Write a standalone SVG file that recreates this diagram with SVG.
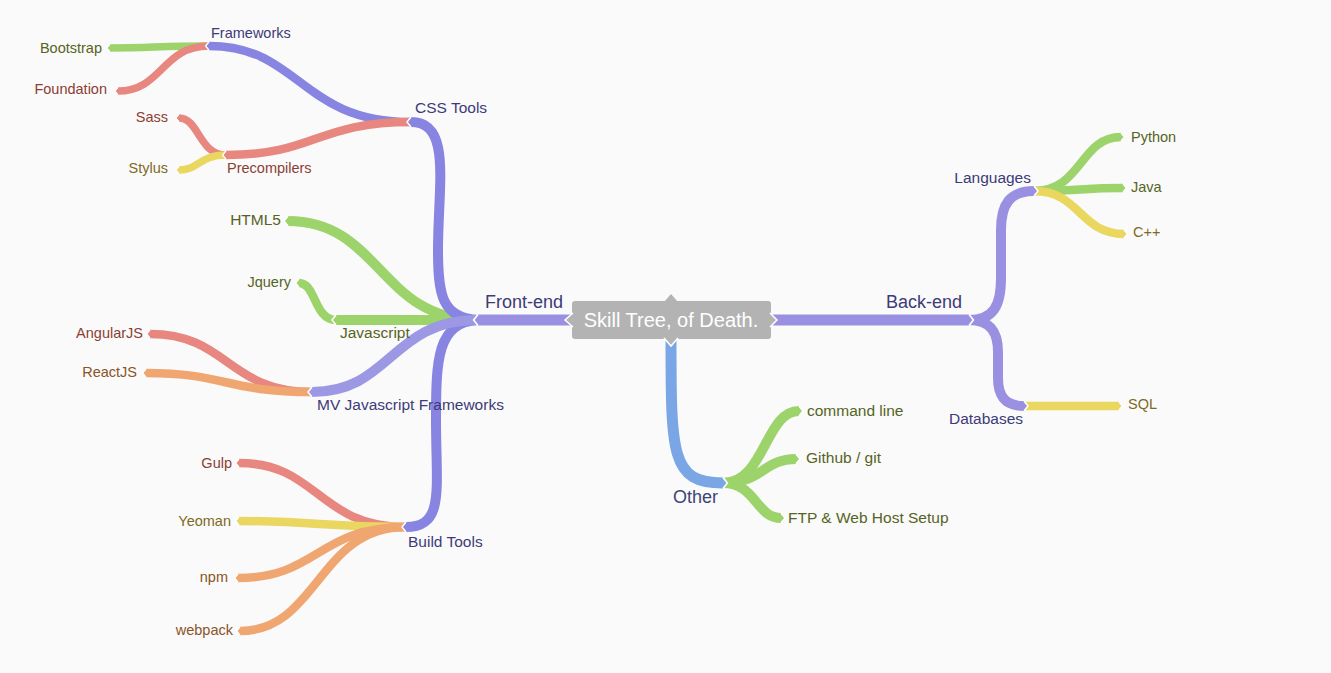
<svg xmlns="http://www.w3.org/2000/svg" width="1331" height="673" viewBox="0 0 1331 673">
<style>
text{font-family:"Liberation Sans",Arial,sans-serif}
.b{fill:none;stroke-linecap:butt;stroke-linejoin:round}
.w1{stroke-width:11}.w2{stroke-width:10}.w3{stroke-width:8.5}.w4{stroke-width:7.5}
.l1{font-size:18px}.l2{font-size:15.5px}.l3{font-size:14.5px}
.e{text-anchor:end}
.tn{fill:#3d3b78}.tg{fill:#56641f}.tr{fill:#8a3f33}.ty{fill:#7d6a1f}.to{fill:#8a5426}.tb{fill:#3b4477}
.tipo{fill:none;stroke:#fff;stroke-width:1.5}
</style>
<defs>
<marker id="mP1" viewBox="-1 -5 6 10" markerWidth="0.6" markerHeight="1" refX="0" refY="0" orient="auto" overflow="visible"><path d="M-1,-5 L4,0 L-1,5Z" fill="#9a90e1"/><path class="tipo" d="M0,-5 L4,0 L0,5"/></marker>
<marker id="mP2" viewBox="-1 -5 6 10" markerWidth="0.6" markerHeight="1" refX="0" refY="0" orient="auto" overflow="visible"><path d="M-1,-5 L4,0 L-1,5Z" fill="#8884e1"/><path class="tipo" d="M0,-5 L4,0 L0,5"/></marker>
<marker id="mP3" viewBox="-1 -5 6 10" markerWidth="0.6" markerHeight="1" refX="0" refY="0" orient="auto" overflow="visible"><path d="M-1,-5 L4,0 L-1,5Z" fill="#9c98e4"/><path class="tipo" d="M0,-5 L4,0 L0,5"/></marker>
<marker id="mG" viewBox="-1 -5 6 10" markerWidth="0.6" markerHeight="1" refX="0" refY="0" orient="auto" overflow="visible"><path d="M-1,-5 L4,0 L-1,5Z" fill="#9dd36b"/><path class="tipo" d="M0,-5 L4,0 L0,5"/></marker>
<marker id="mR" viewBox="-1 -5 6 10" markerWidth="0.6" markerHeight="1" refX="0" refY="0" orient="auto" overflow="visible"><path d="M-1,-5 L4,0 L-1,5Z" fill="#e8877f"/><path class="tipo" d="M0,-5 L4,0 L0,5"/></marker>
<marker id="mY" viewBox="-1 -5 6 10" markerWidth="0.6" markerHeight="1" refX="0" refY="0" orient="auto" overflow="visible"><path d="M-1,-5 L4,0 L-1,5Z" fill="#e9d760"/><path class="tipo" d="M0,-5 L4,0 L0,5"/></marker>
<marker id="mO" viewBox="-1 -5 6 10" markerWidth="0.6" markerHeight="1" refX="0" refY="0" orient="auto" overflow="visible"><path d="M-1,-5 L4,0 L-1,5Z" fill="#f0a670"/><path class="tipo" d="M0,-5 L4,0 L0,5"/></marker>
<marker id="mB" viewBox="-1 -5 6 10" markerWidth="0.6" markerHeight="1" refX="0" refY="0" orient="auto" overflow="visible"><path d="M-1,-5 L4,0 L-1,5Z" fill="#7ba6e6"/><path class="tipo" d="M0,-5 L4,0 L0,5"/></marker>
</defs>
<rect width="1331" height="673" fill="#fafafa"/>
<g id="connectors">
<!-- level 4 -->
<path class="b w4" stroke="#9dd36b" marker-end="url(#mG)" d="M209,46 C160,46 150,48 110,48"/>
<path class="b w4" stroke="#e8877f" marker-end="url(#mR)" d="M209,46 C162,46 162,91 118,91"/>
<path class="b w4" stroke="#e8877f" marker-end="url(#mR)" d="M226,155 C199,155 199,118 179,118"/>
<path class="b w4" stroke="#e9d760" marker-end="url(#mY)" d="M226,155 C199,155 199,170 179,170"/>
<!-- level 3 -->
<path class="b w3" stroke="#8884e1" marker-end="url(#mP2)" d="M411,122 C300,122 300,46 209,46"/>
<path class="b w3" stroke="#e8877f" marker-end="url(#mR)" d="M411,122 C316,122 316,155 226,155"/>
<path class="b w3" stroke="#9dd36b" marker-end="url(#mG)" d="M336,320 C314,320 316,283 299,283"/>
<path class="b w3" stroke="#e8877f" marker-end="url(#mR)" d="M312,392 C228,392 228,334 150,334"/>
<path class="b w3" stroke="#f0a670" marker-end="url(#mO)" d="M312,392 C226,392 226,373 146,373"/>
<path class="b w3" stroke="#e8877f" marker-end="url(#mR)" d="M406,527 C318,527 318,463 239,463"/>
<path class="b w3" stroke="#e9d760" marker-end="url(#mY)" d="M406,527 C320,527 320,521 239,521"/>
<path class="b w3" stroke="#f0a670" marker-end="url(#mO)" d="M406,527 C318,527 318,578 238,578"/>
<path class="b w3" stroke="#f0a670" marker-end="url(#mO)" d="M406,527 C318,527 318,631 240,631"/>
<path class="b w3" stroke="#9dd36b" marker-end="url(#mG)" d="M1034,191 C1082,191 1080,137 1121,137"/>
<path class="b w3" stroke="#9dd36b" marker-end="url(#mG)" d="M1034,191 C1080,191 1080,188 1123,188"/>
<path class="b w3" stroke="#e9d760" marker-end="url(#mY)" d="M1034,191 C1080,191 1080,234 1124,234"/>
<path class="b w3" stroke="#e9d760" marker-end="url(#mY)" d="M1024,406 L1119,406"/>
<!-- level 2 -->
<path class="b w2" stroke="#9dd36b" marker-end="url(#mG)" d="M478,320 C380,320 380,221 288,221"/>
<path class="b w2" stroke="#9dd36b" marker-end="url(#mG)" d="M478,320 L336,320"/>
<path class="b w2" stroke="#8884e1" marker-end="url(#mP2)" d="M478,320 C442,318 438,295 438,250 C438,185 452,122 411,122"/>
<path class="b w2" stroke="#8884e1" marker-end="url(#mP2)" d="M478,320 C437,322 436,360 436,420 C436,490 445,527 406,527"/>
<path class="b w2" stroke="#9c98e4" marker-end="url(#mP3)" d="M478,320 C391,320 391,392 312,392"/>
<path class="b w2" stroke="#9a90e1" marker-end="url(#mP1)" d="M969,320 C994,320 1001,305 1001,278 L1001,230 C1001,204 1010,191 1034,191"/>
<path class="b w2" stroke="#9a90e1" marker-end="url(#mP1)" d="M969,320 C991,320 998,333 998,352 L998,378 C998,397 1006,406 1024,406"/>
<path class="b w2" stroke="#9dd36b" marker-end="url(#mG)" d="M723,483 C765,483 765,411 799,411"/>
<path class="b w2" stroke="#9dd36b" marker-end="url(#mG)" d="M723,483 C763,483 763,459 796,459"/>
<path class="b w2" stroke="#9dd36b" marker-end="url(#mG)" d="M723,483 C756,483 756,518 781,518"/>
<!-- level 1 -->
<path class="b w1" stroke="#9a90e1" marker-end="url(#mP1)" d="M575,320 L478,320"/>
<path class="b w1" stroke="#9a90e1" marker-end="url(#mP1)" d="M767,320 L969,320"/>
<path class="b w1" stroke="#7ba6e6" marker-end="url(#mB)" d="M671,336 C671,455 671,483 723,483"/>
</g>
<g id="root">
<rect x="572" y="301" width="199" height="38" rx="3" fill="#b3b3b3"/>
<path d="M573,313 L565,320 L573,327Z" fill="#b3b3b3"/><path class="tipo" d="M573,313 L565,320 L573,327"/>
<path d="M770,313 L777,320 L770,327Z" fill="#b3b3b3"/><path class="tipo" d="M770,313 L777,320 L770,327"/>
<path d="M664,302 L671,294 L678,302Z" fill="#b3b3b3"/>
<path d="M664,338 L671,346 L678,338Z" fill="#b3b3b3"/><path class="tipo" d="M664,338 L671,346 L678,338"/>
<text x="671" y="327" font-size="20" fill="#fff" text-anchor="middle">Skill Tree, of Death.</text>
</g>
<g id="front-end"><text class="l1 tn" x="485" y="308">Front-end</text></g>
<g id="back-end"><text class="l1 tn" x="886" y="308">Back-end</text></g>
<g id="other"><text class="l1 tb" x="673" y="503">Other</text></g>
<g id="css-tools"><text class="l2 tn" x="415" y="113">CSS Tools</text></g>
<g id="html5"><text class="l2 tg e" x="281" y="225">HTML5</text></g>
<g id="javascript"><text class="l2 tg" x="340" y="338">Javascript</text></g>
<g id="mv-frameworks"><text class="l2 tn" x="317" y="410">MV Javascript Frameworks</text></g>
<g id="build-tools"><text class="l2 tn" x="408" y="547">Build Tools</text></g>
<g id="languages"><text class="l2 tn e" x="1031" y="183">Languages</text></g>
<g id="databases"><text class="l2 tn" x="949" y="424">Databases</text></g>
<g id="command-line"><text class="l2 tg" x="807" y="416">command line</text></g>
<g id="github"><text class="l2 tg" x="806" y="463">Github / git</text></g>
<g id="ftp"><text class="l2 tg" x="788" y="523">FTP &amp; Web Host Setup</text></g>
<g id="frameworks"><text class="l3 tn" x="211" y="38">Frameworks</text></g>
<g id="precompilers"><text class="l3 tr" x="227" y="173">Precompilers</text></g>
<g id="jquery"><text class="l3 tg e" x="291" y="287">Jquery</text></g>
<g id="angularjs"><text class="l3 tr e" x="143" y="338">AngularJS</text></g>
<g id="reactjs"><text class="l3 to e" x="137" y="377">ReactJS</text></g>
<g id="gulp"><text class="l3 tr e" x="232" y="468">Gulp</text></g>
<g id="yeoman"><text class="l3 ty e" x="231" y="526">Yeoman</text></g>
<g id="npm"><text class="l3 to e" x="228" y="582">npm</text></g>
<g id="webpack"><text class="l3 to e" x="233" y="635">webpack</text></g>
<g id="python"><text class="l3 tg" x="1131" y="142">Python</text></g>
<g id="java"><text class="l3 tg" x="1131" y="192">Java</text></g>
<g id="cpp"><text class="l3 ty" x="1133" y="237">C++</text></g>
<g id="sql"><text class="l3 ty" x="1128" y="409">SQL</text></g>
<g id="bootstrap"><text class="l3 tg e" x="102" y="53">Bootstrap</text></g>
<g id="foundation"><text class="l3 tr e" x="107" y="94">Foundation</text></g>
<g id="sass"><text class="l3 tr e" x="168" y="122">Sass</text></g>
<g id="stylus"><text class="l3 ty e" x="168" y="173">Stylus</text></g>
</svg>
